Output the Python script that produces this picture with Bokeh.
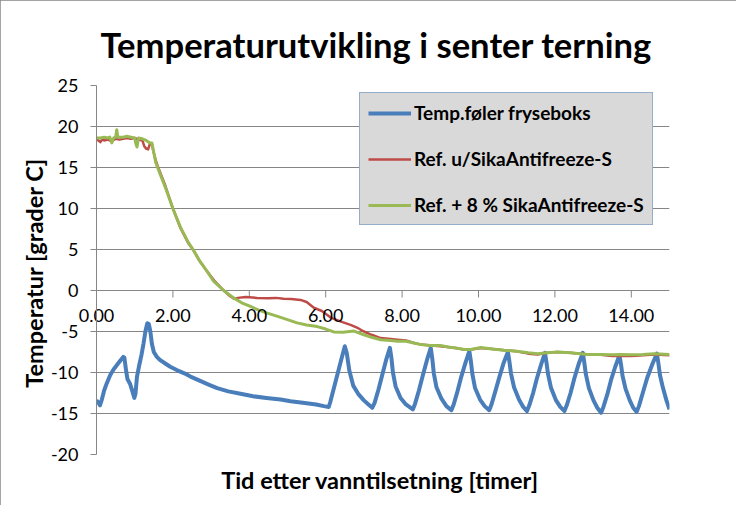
import math
from bokeh.plotting import figure
from bokeh.models import Range1d, FixedTicker, Legend, LegendItem, Title
from bokeh.embed import file_html
from bokeh.resources import INLINE

title_text = "Temperaturutvikling i senter terning"
x_label = "Tid etter vanntilsetning  [timer]"
y_label = "Temperatur  [grader C]"
series_names = ["Temp.føler fryseboks", "Ref. u/SikaAntifreeze-S", "Ref. + 8 % SikaAntifreeze-S"]
x_ticks = [0, 2, 4, 6, 8, 10, 12, 14]
x_tick_labels = ["0.00", "2.00", "4.00", "6.00", "8.00", "10.00", "12.00", "14.00"]
y_ticks = [-20, -15, -10, -5, 0, 5, 10, 15, 20, 25]
y_tick_labels = ["-20", "-15", "-10", "-5", "0", "5", "10", "15", "20", "25"]

# Temp.føler fryseboks (blue)
blue_t = [0.00, 0.04, 0.09, 0.14, 0.20, 0.27, 0.36, 0.45, 0.55, 0.63, 0.70, 0.73, 0.77, 0.81,
          0.88, 0.94, 0.99, 1.02, 1.06, 1.11, 1.18, 1.23, 1.28, 1.33, 1.37, 1.41, 1.45, 1.50,
          1.58, 1.67, 1.80, 1.93, 2.10, 2.30, 2.46, 2.70, 2.95, 3.16, 3.45, 3.77, 4.10, 4.45,
          4.82, 5.08, 5.40, 5.75, 5.95, 6.08,
          6.12, 6.22, 6.32, 6.42, 6.50, 6.55, 6.62, 6.72, 6.85, 7.00, 7.12,
          7.22, 7.28, 7.38, 7.48, 7.58, 7.68, 7.72, 7.76, 7.83, 7.96, 8.10,
          8.28, 8.34, 8.44, 8.54, 8.65, 8.75, 8.79, 8.83, 8.90, 9.03, 9.16,
          9.29, 9.35, 9.45, 9.55, 9.66, 9.76, 9.80, 9.84, 9.91, 10.04, 10.16,
          10.28, 10.34, 10.44, 10.55, 10.66, 10.77, 10.81, 10.85, 10.93, 11.06, 11.17,
          11.27, 11.33, 11.43, 11.53, 11.64, 11.74, 11.78, 11.82, 11.90, 12.03, 12.14,
          12.25, 12.31, 12.41, 12.51, 12.62, 12.73, 12.77, 12.81, 12.89, 13.01, 13.11,
          13.21, 13.27, 13.37, 13.47, 13.58, 13.69, 13.73, 13.77, 13.85, 13.96, 14.05,
          14.14, 14.20, 14.30, 14.42, 14.55, 14.67, 14.71, 14.75, 14.83, 14.92, 15.00]
blue_temp = [-13.4, -13.6, -14.0, -13.3, -12.2, -11.3, -10.3, -9.6, -9.0, -8.5, -8.1, -8.2, -9.6, -10.8,
             -11.4, -12.3, -13.1, -12.6, -10.5, -9.3, -7.8, -6.5, -5.0, -4.0, -4.1, -5.0, -6.5, -7.5,
             -8.1, -8.5, -8.9, -9.3, -9.7, -10.1, -10.5, -11.0, -11.5, -11.9, -12.3, -12.6, -12.9, -13.1,
             -13.3, -13.5, -13.7, -13.9, -14.1, -14.2,
             -13.6, -11.8, -10.0, -8.2, -6.8, -7.6, -9.8, -11.6, -12.6, -13.4, -13.9,
             -14.3, -13.7, -12.1, -10.3, -8.5, -7.0, -8.2, -10.0, -11.7, -13.1, -13.9,
             -14.5, -13.8, -12.2, -10.4, -8.5, -7.0, -8.3, -10.1, -11.8, -13.2, -14.1,
             -14.6, -13.9, -12.3, -10.5, -8.8, -7.4, -8.6, -10.2, -11.9, -13.3, -14.1,
             -14.6, -13.9, -12.3, -10.5, -8.8, -7.5, -8.7, -10.1, -11.8, -13.3, -14.2,
             -14.7, -14.0, -12.5, -10.7, -9.0, -7.6, -8.8, -10.2, -11.9, -13.4, -14.2,
             -14.7, -14.0, -12.5, -10.7, -9.0, -7.6, -8.8, -10.2, -11.9, -13.4, -14.3,
             -14.9, -14.2, -12.7, -10.9, -9.3, -7.9, -9.0, -10.4, -12.0, -13.4, -14.3,
             -14.8, -14.1, -12.5, -10.6, -9.0, -7.7, -8.9, -10.3, -11.9, -13.4, -14.5]

# Ref. u/SikaAntifreeze-S (red)
ref_t = [0.00, 0.05, 0.10, 0.15, 0.20, 0.30, 0.40, 0.50, 0.60, 0.70, 0.80, 0.90, 1.00, 1.10, 1.20,
         1.25, 1.30, 1.35, 1.40, 1.45, 1.50, 1.55, 1.60, 1.70, 1.80, 1.90, 2.00, 2.20, 2.40, 2.54,
         2.70, 2.90, 3.10, 3.33, 3.50, 3.60, 3.70, 3.90, 4.20, 4.50, 4.70, 4.90, 5.10, 5.34, 5.50,
         5.69, 5.90, 6.13, 6.40, 6.65, 6.85, 7.00, 7.20, 7.44, 7.70, 7.88, 8.10, 8.31, 8.50, 8.75,
         9.00, 9.20, 9.40, 9.62, 9.80, 10.06, 10.30, 10.67, 11.00, 11.30, 11.55, 11.80, 12.07, 12.40,
         12.86, 13.20, 13.50, 13.73, 14.00, 14.30, 14.60, 15.00]
ref_temp = [18.4, 18.3, 18.1, 18.4, 18.3, 18.4, 18.2, 18.5, 18.4, 18.5, 18.6, 18.5, 18.6, 18.4, 18.3,
            17.6, 17.3, 17.2, 17.9, 17.8, 16.8, 15.9, 15.2, 14.0, 12.8, 11.4, 10.0, 7.6, 5.8, 4.9,
            3.6, 2.3, 1.1, 0.0, -0.7, -1.0, -0.9, -0.8, -0.9, -0.95, -0.9, -1.0, -1.05, -1.15, -1.4,
            -2.1, -2.5, -3.3, -3.8, -4.2, -4.6, -5.0, -5.4, -5.8, -5.9, -6.0, -6.1, -6.4, -6.6, -6.7,
            -6.8, -6.9, -7.0, -7.2, -7.2, -7.0, -7.1, -7.3, -7.4, -7.7, -7.8, -7.6, -7.5, -7.6,
            -7.8, -7.85, -8.0, -8.0, -8.0, -7.9, -7.8, -7.9]

# Ref. + 8 % SikaAntifreeze-S (green)
sika_t = [0.00, 0.10, 0.20, 0.30, 0.35, 0.40, 0.45, 0.50, 0.53, 0.56, 0.70, 0.80, 0.90, 1.00, 1.03,
          1.06, 1.10, 1.20, 1.30, 1.40, 1.45, 1.50, 1.55, 1.60, 1.70, 1.80, 1.90, 2.00, 2.20, 2.40,
          2.54, 2.70, 2.90, 3.07, 3.33, 3.59, 3.80, 4.03, 4.25, 4.47, 4.70, 4.90, 5.25, 5.50, 5.78,
          6.00, 6.21, 6.45, 6.74, 7.00, 7.20, 7.44, 7.70, 7.88, 8.10, 8.31, 8.50, 8.75, 9.00, 9.20,
          9.40, 9.62, 9.80, 10.06, 10.30, 10.67, 11.00, 11.30, 11.55, 11.80, 12.07, 12.40, 12.86,
          13.20, 13.50, 13.73, 14.00, 14.30, 14.60, 15.00]
sika_temp = [18.6, 18.6, 18.7, 18.6, 18.7, 18.0, 18.6, 18.7, 19.6, 18.7, 18.7, 18.8, 18.7, 18.6, 17.9,
             17.5, 18.6, 18.5, 18.3, 18.0, 18.0, 16.8, 15.6, 15.0, 13.8, 12.6, 11.3, 10.0, 7.7, 5.9,
             4.9, 3.6, 2.3, 1.1, 0.0, -0.9, -1.5, -1.95, -2.4, -2.75, -3.1, -3.4, -3.95, -4.2, -4.4,
             -4.7, -5.05, -5.1, -4.95, -5.4, -5.7, -6.0, -6.1, -6.2, -6.2, -6.4, -6.6, -6.7, -6.7, -6.9,
             -7.0, -7.2, -7.2, -6.95, -7.1, -7.3, -7.4, -7.6, -7.7, -7.6, -7.5, -7.6, -7.8,
             -7.8, -7.85, -7.8, -7.85, -7.8, -7.7, -7.8]

GRID = "#868686"
FONT = "Lato"

p = figure(width=736, height=505, x_range=Range1d(0, 15), y_range=Range1d(-20, 25),
           output_backend="svg", toolbar_location=None,
           min_border_left=96, min_border_right=67, min_border_top=83, min_border_bottom=51)
p.title = Title(text=title_text, align="left", text_font=FONT, text_font_size="34.6px",
                text_font_style="bold", text_color="black", offset=4, standoff=42)
p.outline_line_color = None
p.background_fill_color = "white"
p.border_fill_color = "white"

p.xgrid.visible = False
p.ygrid.ticker = FixedTicker(ticks=y_ticks)
p.ygrid.grid_line_color = GRID
p.ygrid.grid_line_width = 1

p.yaxis.ticker = FixedTicker(ticks=y_ticks)
p.yaxis.major_label_overrides = dict(zip(y_ticks, y_tick_labels))
p.yaxis.axis_label = y_label
p.yaxis.axis_label_text_font = FONT
p.yaxis.axis_label_text_font_size = "23.5px"
p.yaxis.axis_label_text_font_style = "bold"
p.yaxis.axis_label_text_color = "black"
p.yaxis.axis_label_standoff = 0
p.yaxis.major_label_text_font = FONT
p.yaxis.major_label_text_font_size = "18px"
p.yaxis.major_label_text_color = "black"
p.yaxis.major_label_standoff = 12
p.yaxis.axis_line_color = GRID
p.yaxis.major_tick_line_color = GRID
p.yaxis.major_tick_out = 6
p.yaxis.major_tick_in = 0
p.yaxis.minor_tick_line_color = None

# x axis: its labels are lifted up to sit just below the y = 0 line
p.xaxis.ticker = FixedTicker(ticks=x_ticks)
p.xaxis.major_label_overrides = dict(zip(x_ticks, x_tick_labels))
p.xaxis.axis_line_color = None
p.xaxis.major_tick_line_color = None
p.xaxis.minor_tick_line_color = None
p.xaxis.major_tick_out = 0
p.xaxis.major_tick_in = 0
p.xaxis.major_label_standoff = -146
p.xaxis.major_label_text_font = FONT
p.xaxis.major_label_text_font_size = "18px"
p.xaxis.major_label_text_color = "black"
p.xaxis.axis_label = x_label
p.xaxis.axis_label_text_font = FONT
p.xaxis.axis_label_text_font_size = "23.5px"
p.xaxis.axis_label_text_font_style = "bold"
p.xaxis.axis_label_text_color = "black"
p.xaxis.axis_label_standoff = 141

# tick marks on the y = 0 crossing line
p.ray(x=x_ticks, y=[0] * len(x_ticks), length=7, length_units="screen",
      angle=-math.pi / 2, line_color=GRID, line_width=1)

r_blue = p.line(blue_t, blue_temp, line_color="#4A7EBB", line_width=4, line_join="round")
r_red = p.line(ref_t, ref_temp, line_color="#BE4B48", line_width=2.5, line_join="round")
r_green = p.line(sika_t, sika_temp, line_color="#98B954", line_width=3, line_join="round")

legend = Legend(items=[LegendItem(label=series_names[0], renderers=[r_blue]),
                       LegendItem(label=series_names[1], renderers=[r_red]),
                       LegendItem(label=series_names[2], renderers=[r_green])],
                location=(263, 229), orientation="vertical",
                background_fill_color="#D9D9D9", background_fill_alpha=1,
                border_line_color="#4F81BD", border_line_width=1,
                padding=8, spacing=23, margin=0,
                glyph_width=43, glyph_height=22, label_height=22, label_standoff=3,
                label_text_font=FONT, label_text_font_size="19px",
                label_text_font_style="bold", label_text_color="black")
p.add_layout(legend)

p.styles = {"outline": "2px solid #868686", "outline-offset": "-2px"}

open("out.html", "w").write(file_html(p, INLINE))
